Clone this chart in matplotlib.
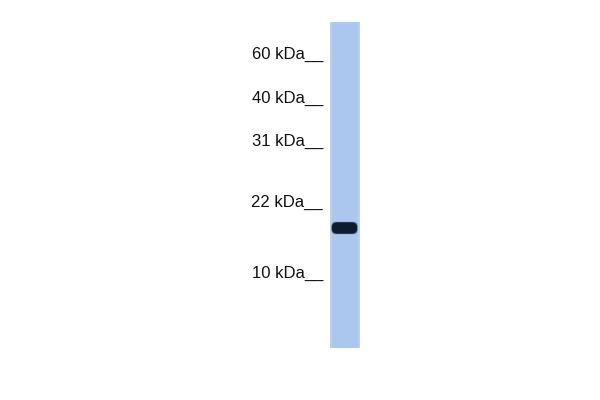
import numpy as np
import matplotlib.pyplot as plt
from matplotlib.patches import Rectangle, FancyBboxPatch

# marker ladder (label, row position in pixels from top)
marker_labels = ["60 kDa", "40 kDa", "31 kDa", "22 kDa", "10 kDa"]
marker_rows = [59, 103, 146, 207, 278]

# lane geometry and the single band
lane_left, lane_right = 330, 360
lane_top, lane_bottom = 22, 348
band_row = 228
band_width = 27
band_height = 11

fig = plt.figure(figsize=(6, 4), dpi=100)
ax = fig.add_axes([0, 0, 1, 1])
ax.set_xlim(0, 600)
ax.set_ylim(400, 0)
ax.axis("off")

# lane background
ax.add_patch(Rectangle((lane_left, lane_top), lane_right - lane_left,
                       lane_bottom - lane_top, color="#abc7ed", lw=0))
# slightly lighter edges of the lane
ax.add_patch(Rectangle((lane_left, lane_top), 2, lane_bottom - lane_top,
                       color="#b8d1f0", lw=0))
ax.add_patch(Rectangle((lane_right - 2, lane_top), 2, lane_bottom - lane_top,
                       color="#b8d1f0", lw=0))

# band, stacked rounded boxes to soften the edge
cx = (lane_left + lane_right) / 2 - 0.5
for grow, alpha in [(2.0, 0.2), (1.0, 0.5), (0.0, 1.0)]:
    w = band_width + grow
    h = band_height + grow
    ax.add_patch(FancyBboxPatch((cx - w / 2 + 4, band_row - h / 2 + 3), w - 8, h - 6,
                                boxstyle="round,pad=3,rounding_size=5",
                                color="#0f1b2e", alpha=alpha, lw=0))

for label, row in zip(marker_labels, marker_rows):
    ax.text(323, row, label + "__", ha="right", va="baseline",
            fontsize=12, color="#111111", family="Liberation Sans")

fig.savefig("out.png", dpi=100)
